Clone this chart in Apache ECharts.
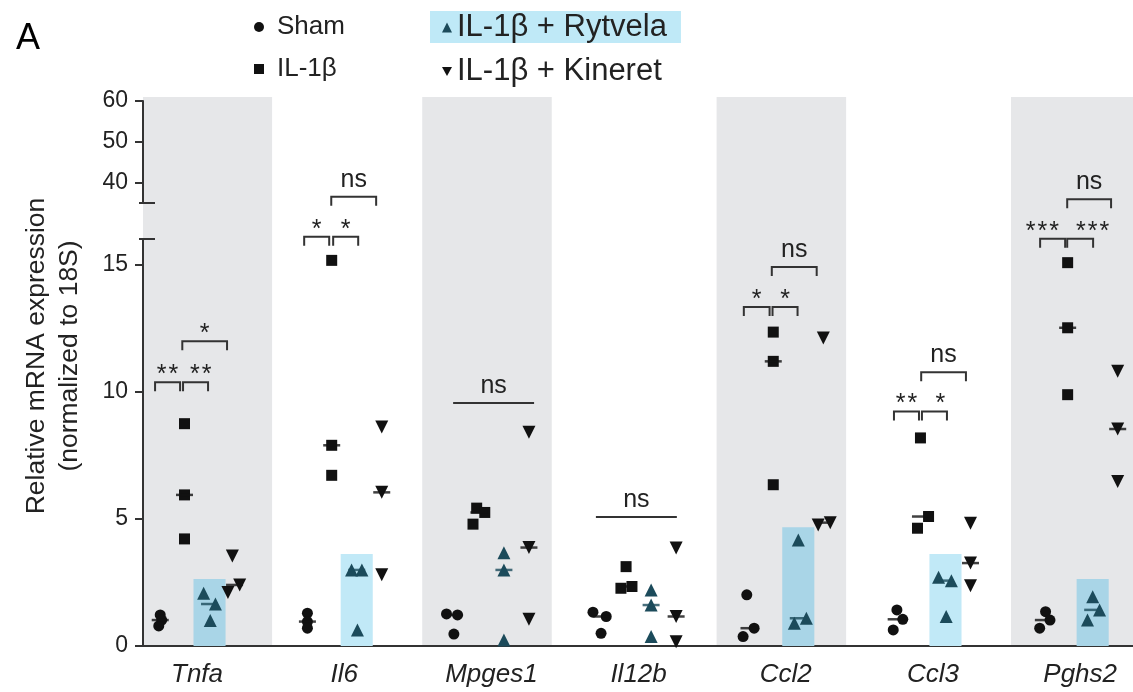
<!DOCTYPE html>
<html><head><meta charset="utf-8">
<script src="https://cdn.jsdelivr.net/npm/echarts@6/dist/echarts.min.js"></script>
<style>html,body{margin:0;padding:0;background:#fff}#c{width:1133px;height:692px}</style>
</head><body><div id="c"></div>
<script>
// ---------------- DATA ----------------
const categories = ['Tnfa', 'Il6', 'Mpges1', 'Il12b', 'Ccl2', 'Ccl3', 'Pghs2'];
const groupNames = ['Sham', 'IL-1β', 'IL-1β + Rytvela', 'IL-1β + Kineret'];

const sham    = [[1.22,1.02,0.79],[1.29,0.96,0.70],[1.26,1.22,0.47],[1.33,1.16,0.50],[2.01,0.70,0.37],[1.42,1.05,0.63],[1.35,1.02,0.70]];
const il1b    = [[8.74,5.94,4.21],[15.16,7.89,6.71],[5.42,5.25,4.79],[3.12,2.34,2.27],[12.34,11.19,6.34],[8.18,5.09,4.63],[15.07,12.51,9.88]];
const rytvela = [[2.07,1.65,1.00],[2.99,2.99,0.63],[3.67,2.99,0.24],[2.20,1.61,0.37],[4.17,1.09,0.89],[2.70,2.57,1.16],[1.94,1.42,1.02]];
const kineret = [[3.54,2.40,2.10],[8.61,6.04,2.80],[8.40,3.87,1.05],[3.85,1.16,0.17],[12.11,4.85,4.76],[4.83,3.26,2.37],[10.80,8.53,6.47]];
const rytvelaBar = [2.63, 3.62, null, null, 4.67, 3.62, 2.63];

// horizontal scatter of the individual points (category units)
const shamJitter    = [[0,0.01,-0.01],[0,0,0],[-0.055,0.02,-0.005],[-0.06,0.03,-0.005],[-0.015,0.035,-0.04],[0.005,0.045,-0.02],[0.015,0.045,-0.025]];
const il1bJitter    = [[0,0,0],[0,0,0],[-0.015,0.04,-0.04],[0,0.04,-0.035],[0,0,0],[0,0.055,-0.02],[0,0,0]];
const rytvelaJitter = [[-0.04,0.04,0.005],[-0.035,0.035,0.005],[0,0,0],[0,0,0],[0,0.055,-0.027],[-0.047,0.04,0.005],[0,0.047,-0.035]];
const kineretJitter = [[-0.015,0.035,-0.045],[0,0,0],[0,0,0],[0,0,0],[0,0.047,-0.035],[0,0,0],[0,0,0]];

const shadedCategories = [0, 2, 4, 6];
const lowerTicks = [0, 5, 10, 15];
const upperTicks = [40, 50, 60];

// significance annotations: [category, from, to, value, label, kind, label shift]
const brackets = [
  [0, -0.285, -0.115, 10.37, '**', 'b', 0],
  [0, -0.095, 0.075, 10.37, '**', 'b', 0.035],
  [0, -0.10, 0.204, 11.98, '*', 'b', 0],
  [1, -0.272, -0.102, 16.09, '*', 'b', 0],
  [1, -0.075, 0.095, 16.09, '*', 'b', 0],
  [1, -0.088, 0.217, 17.66, 'ns', 'b', 0],
  [2, -0.26, 0.29, 9.55, 'ns', 'l', 0],
  [3, -0.29, 0.26, 5.07, 'ns', 'l', 0],
  [4, -0.285, -0.11, 13.33, '*', 'b', 0],
  [4, -0.09, 0.08, 13.33, '*', 'b', 0],
  [4, -0.095, 0.21, 14.9, 'ns', 'b', 0],
  [5, -0.265, -0.095, 9.22, '**', 'b', 0],
  [5, -0.075, 0.095, 9.22, '*', 'b', 0.04],
  [5, -0.08, 0.224, 10.76, 'ns', 'b', 0],
  [6, -0.272, -0.102, 16.01, '***', 'b', -0.07],
  [6, -0.088, 0.088, 16.01, '***', 'b', 0.085],
  [6, -0.088, 0.21, 17.56, 'ns', 'b', 0]
];

// ---------------- LAYOUT / STYLE ----------------
const FONT = "'Liberation Sans', Arial, Helvetica, sans-serif";
const X_MIN = -0.367, X_MAX = 6.359;
const GROUP_OFFSET = [-0.25, -0.085, 0.085, 0.255];
const BAND_LEFT = -0.47, BAND_RIGHT = 0.41, FIRST_BAND_RIGHT = 0.51;
const BAR_HALF = 0.109;
const BAND_COLOR = '#e6e7e9';
const BAR_ON_BAND = '#a9d5e7';
const BAR_ON_WHITE = '#c1e9f7';
const INK = '#111111';
const TEAL = '#1c4b5b';
const AXIS = '#333333';
const TEXT = '#222222';

const groups = [sham, il1b, rytvela, kineret];
const jitters = [shamJitter, il1bJitter, rytvelaJitter, kineretJitter];
const symbols = ['circle', 'rect', 'triangle', 'triangle'];
const rotates = [0, 0, 0, 180];
const sizes = [11, 11, 13, 13];
const colors = [INK, INK, TEAL, INK];

function median(a) { const s = a.slice().sort((x, y) => x - y); return s[Math.floor(s.length / 2)]; }
function starText(t) { return t === 'ns' ? t : t.split('').join('\u200A'); }

const pointSeries = groups.map((g, k) => ({
  name: groupNames[k], type: 'scatter', xAxisIndex: 0, yAxisIndex: 0,
  symbol: symbols[k], symbolRotate: rotates[k], symbolSize: sizes[k],
  itemStyle: { color: colors[k], opacity: 1 }, z: 5,
  data: g.flatMap((vals, i) => vals.map((v, j) => [i + GROUP_OFFSET[k] + jitters[k][i][j], v]))
}));

const medianSeries = {
  type: 'scatter', xAxisIndex: 0, yAxisIndex: 0, symbol: 'rect', symbolSize: [17, 2.5], z: 6,
  silent: true,
  data: groups.flatMap((g, k) => g.map((vals, i) => ({ value: [i + GROUP_OFFSET[k], median(vals)], itemStyle: { color: colors[k] } })))
};

const bandData = shadedCategories.map(i => [i + BAND_LEFT, i === 0 ? i + FIRST_BAND_RIGHT : i + BAND_RIGHT]);
const bandSeries = {
  type: 'custom', xAxisIndex: 2, yAxisIndex: 2, z: -1, silent: true,
  data: bandData,
  renderItem: function (params, api) {
    const a = api.coord([api.value(0), 1]), b = api.coord([api.value(1), 0]);
    const cs = params.coordSys;
    const r = echarts.graphic.clipRectByRect({ x: a[0], y: a[1], width: b[0] - a[0], height: b[1] - a[1] },
      { x: cs.x, y: cs.y, width: cs.width, height: cs.height });
    return r ? { type: 'rect', shape: r, style: { fill: BAND_COLOR } } : null;
  }
};

const barData = rytvelaBar.map((v, i) => v == null ? null : [i + GROUP_OFFSET[2], v, shadedCategories.includes(i) ? 1 : 0]).filter(Boolean);
const barSeries = {
  type: 'custom', xAxisIndex: 0, yAxisIndex: 0, z: 1, silent: true,
  data: barData,
  renderItem: function (params, api) {
    const x = api.value(0), v = api.value(1);
    const a = api.coord([x - BAR_HALF, v]), b = api.coord([x + BAR_HALF, 0]);
    return { type: 'rect', shape: { x: a[0], y: a[1], width: b[0] - a[0], height: b[1] - a[1] },
      style: { fill: api.value(2) ? BAR_ON_BAND : BAR_ON_WHITE } };
  }
};

const bracketSeries = {
  type: 'custom', xAxisIndex: 0, yAxisIndex: 0, z: 7, clip: false, silent: true,
  data: brackets.map(b => [b[0] + b[1], b[0] + b[2], b[3], b[0] + (b[1] + b[2]) / 2 + b[6]]),
  renderItem: function (params, api) {
    const b = brackets[params.dataIndex];
    const p1 = api.coord([api.value(0), api.value(2)]);
    const p2 = api.coord([api.value(1), api.value(2)]);
    const pt = api.coord([api.value(3), api.value(2)]);
    const tick = 9;
    const pts = b[5] === 'b'
      ? [[p1[0], p1[1] + tick], [p1[0], p1[1]], [p2[0], p2[1]], [p2[0], p2[1] + tick]]
      : [p1, p2];
    const isNs = b[4] === 'ns';
    return {
      type: 'group', children: [
        { type: 'polyline', shape: { points: pts }, style: { stroke: AXIS, lineWidth: 2, fill: null } },
        { type: 'text', x: pt[0], y: pt[1] - (isNs ? 17 : 7),
          style: { text: starText(b[4]), fill: TEXT, fontSize: 25, fontFamily: FONT, align: 'center', verticalAlign: 'middle' } }
      ]
    };
  }
};

function breakSeries(xi, yi, v) {
  return {
    type: 'custom', xAxisIndex: xi, yAxisIndex: yi, z: 7, clip: false, silent: true,
    data: [[X_MIN, v]],
    renderItem: function (params, api) {
      const p = api.coord([api.value(0), api.value(1)]);
      return { type: 'line', shape: { x1: p[0] - 4, y1: p[1], x2: p[0] + 12, y2: p[1] }, style: { stroke: AXIS, lineWidth: 2 } };
    }
  };
}

const tickLabelStyle = { fontSize: 23, color: TEXT, fontFamily: FONT, margin: 15 };
const legendText = { fontSize: 26, color: TEXT, fontFamily: FONT };
const legendTextBig = { fontSize: 31, color: TEXT, fontFamily: FONT };

const option = {
  animation: false,
  backgroundColor: '#ffffff',
  title: { text: 'A', left: 11, top: 16, textStyle: { fontSize: 36, fontWeight: 'normal', color: '#000', fontFamily: FONT } },
  legend: [
    { data: ['Sham', 'IL-1β'], orient: 'vertical', left: 249, top: 9, itemWidth: 10, itemHeight: 10, itemGap: 16,
      textStyle: Object.assign({ padding: [0, 0, 0, 8] }, legendText), selectedMode: false },
    { data: ['IL-1β + Rytvela'], left: 430, top: 11, itemWidth: 10, itemHeight: 10, backgroundColor: '#bfe9f7',
      padding: [1, 14, 0, 12], textStyle: legendTextBig, selectedMode: false },
    { data: [{ name: 'IL-1β + Kineret', icon: 'path://M0,0L10,0L5,9Z' }], left: 430, top: 55, itemWidth: 10, itemHeight: 10,
      padding: [1, 14, 0, 12], textStyle: legendTextBig, selectedMode: false }
  ],
  graphic: [{
    type: 'text', x: 53, y: 356, rotation: Math.PI / 2,
    style: { text: 'Relative mRNA expression\n(normalized to 18S)', fontSize: 26.5, lineHeight: 33, fill: TEXT,
      fontFamily: FONT, align: 'center', verticalAlign: 'middle' }
  }],
  grid: [
    { left: 143, right: 0, top: 239, bottom: 46 },
    { left: 143, right: 0, top: 101, height: 102 },
    { left: 143, right: 0, top: 97, bottom: 46 }
  ],
  xAxis: [
    { gridIndex: 0, type: 'value', min: X_MIN, max: X_MAX, splitLine: { show: false },
      axisLine: { show: true, onZero: false, lineStyle: { color: AXIS, width: 2 } }, axisTick: { show: false },
      axisLabel: { customValues: categories.map((c, i) => i), formatter: v => categories[Math.round(v)] || '',
        fontSize: 26, fontStyle: 'italic', color: TEXT, fontFamily: FONT, margin: 16 } },
    { gridIndex: 1, type: 'value', min: X_MIN, max: X_MAX, show: false },
    { gridIndex: 2, type: 'value', min: X_MIN, max: X_MAX, show: false }
  ],
  yAxis: [
    { gridIndex: 0, type: 'value', min: 0, max: 16, splitLine: { show: false },
      axisLine: { show: true, onZero: false, lineStyle: { color: AXIS, width: 2 } },
      axisTick: { show: true, length: 8, customValues: lowerTicks, lineStyle: { color: AXIS, width: 2 } },
      axisLabel: Object.assign({ customValues: lowerTicks }, tickLabelStyle) },
    { gridIndex: 1, type: 'value', min: 35, max: 60, splitLine: { show: false },
      axisLine: { show: true, onZero: false, lineStyle: { color: AXIS, width: 2 } },
      axisTick: { show: true, length: 8, customValues: upperTicks, lineStyle: { color: AXIS, width: 2 } },
      axisLabel: Object.assign({ customValues: upperTicks }, tickLabelStyle) },
    { gridIndex: 2, type: 'value', min: 0, max: 1, show: false }
  ],
  series: [bandSeries, barSeries].concat(pointSeries, [medianSeries, bracketSeries, breakSeries(0, 0, 16), breakSeries(1, 1, 35)])
};

const chart = echarts.init(document.getElementById('c'), null, { renderer: 'canvas' });
chart.setOption(option);
</script>
</body></html>
